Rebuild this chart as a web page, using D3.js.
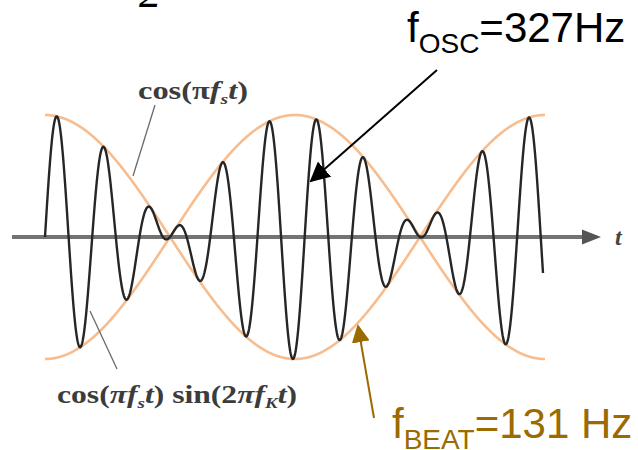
<!DOCTYPE html>
<html>
<head>
<meta charset="utf-8">
<script src="https://cdn.jsdelivr.net/npm/d3@7"></script>
<style>
  html, body { margin: 0; padding: 0; background: #fff; }
  svg { display: block; }
</style>
</head>
<body>
<svg id="chart" width="638" height="450"></svg>
<script>
// ---- data ----
// time axis, in envelope periods
const timeDomain = [0, 1];
const signalEnd = [0.996];
// envelope cos(pi fs t): one full period over the drawing; carrier sin(2 pi fk t)
const envelopeFreq = [2];      // fs  (cos(pi*fs*t))
const carrierFreq = [10.59];   // fk  (sin(2*pi*fk*t))
const amplitudeDomain = [-1, 1];
const sampleCount = [1200];

const labelOsc = ["f", "OSC", "=327Hz"];
const labelBeat = ["f", "BEAT", "=131 Hz"];
const axisLabel = ["t"];

// ---- layout ----
const svg = d3.select("#chart");
const x = d3.scaleLinear().domain(timeDomain).range([45, 545]);
const y = d3.scaleLinear().domain(amplitudeDomain).range([359, 115]);

const fs = envelopeFreq[0], fk = carrierFreq[0];
const envT = d3.range(0, sampleCount[0] + 1).map(i => timeDomain[0] + (timeDomain[1] - timeDomain[0]) * i / sampleCount[0]);
const sigT = d3.range(0, sampleCount[0] + 1).map(i => signalEnd[0] * i / sampleCount[0]);

const env = t => Math.cos(Math.PI * fs * t);
const sig = t => Math.cos(Math.PI * fs * t) * Math.sin(2 * Math.PI * fk * t);

const line = d3.line().x(d => x(d[0])).y(d => y(d[1])).curve(d3.curveLinear);

// envelopes
svg.append("path").datum(envT.map(t => [t, env(t)]))
  .attr("d", line).attr("fill", "none").attr("stroke", "#f7bd8f").attr("stroke-width", 2.6);
svg.append("path").datum(envT.map(t => [t, -env(t)]))
  .attr("d", line).attr("fill", "none").attr("stroke", "#f7bd8f").attr("stroke-width", 2.6);

// axis
const y0 = y(0);
svg.append("line").attr("x1", 12).attr("x2", 586).attr("y1", y0).attr("y2", y0)
  .attr("stroke", "#737373").attr("stroke-width", 4.2);
svg.append("path").attr("d", `M582,${y0 - 7.5} L601,${y0} L582,${y0 + 7.5} Z`).attr("fill", "#555");
svg.append("text").attr("x", 615).attr("y", y0 + 8)
  .attr("font-family", "Liberation Serif, serif").attr("font-style", "italic")
  .attr("font-weight", "bold")
  .attr("font-size", 24).attr("fill", "#444").text(axisLabel[0]);

// signal
svg.append("path").datum(sigT.map(t => [t, sig(t)]))
  .attr("d", line).attr("fill", "none").attr("stroke", "#262626").attr("stroke-width", 2.4)
  .attr("stroke-linejoin", "round");

// leader lines for formula labels
svg.append("line").attr("x1", 155).attr("y1", 105).attr("x2", 133).attr("y2", 176)
  .attr("stroke", "#6a6a6a").attr("stroke-width", 1.3);
svg.append("line").attr("x1", 90).attr("y1", 311).attr("x2", 117).attr("y2", 369)
  .attr("stroke", "#6a6a6a").attr("stroke-width", 1.3);

// formula labels
function formula(xp, yp, parts, width) {
  const t = svg.append("text").attr("x", xp).attr("y", yp)
    .attr("font-family", "Liberation Serif, serif").attr("font-weight", "bold")
    .attr("font-size", 25).attr("fill", "#3c3c3c");
  parts.forEach(p => {
    const s = t.append("tspan").text(p.t);
    if (p.i) s.attr("font-style", "italic");
    if (p.sub) s.attr("font-size", 15).attr("dy", 5);
    if (p.up) s.attr("dy", -5);
  });
  t.attr("textLength", width).attr("lengthAdjust", "spacingAndGlyphs");
}
formula(138, 99, [
  {t: "cos("}, {t: "π"}, {t: "f", i: 1}, {t: "s", i: 1, sub: 1}, {t: "t", i: 1, up: 1}, {t: ")"}
], 110);
formula(57, 403, [
  {t: "cos("}, {t: "π", i: 1}, {t: "f", i: 1}, {t: "s", i: 1, sub: 1}, {t: "t", i: 1, up: 1}, {t: ") sin(2"},
  {t: "π", i: 1}, {t: "f", i: 1}, {t: "K", i: 1, sub: 1}, {t: "t", i: 1, up: 1}, {t: ")"}
], 240);

// partial "2" at top
svg.append("text").attr("x", 139).attr("y", 7)
  .attr("font-family", "Liberation Serif, serif").attr("font-style", "italic")
  .attr("font-size", 44).attr("fill", "#000").text("2");

// arrows
const defs = svg.append("defs");
function marker(id, color, size) {
  defs.append("marker").attr("id", id).attr("viewBox", "0 0 10 10")
    .attr("refX", 9).attr("refY", 5).attr("markerWidth", size).attr("markerHeight", size)
    .attr("markerUnits", "userSpaceOnUse").attr("orient", "auto")
    .append("path").attr("d", "M0,0 L10,5 L0,10 Z").attr("fill", color);
}
marker("ahBlack", "#000", 20);
marker("ahGold", "#9b6a00", 18);

svg.append("line").attr("x1", 437).attr("y1", 70).attr("x2", 311).attr("y2", 181)
  .attr("stroke", "#000").attr("stroke-width", 2).attr("marker-end", "url(#ahBlack)");
svg.append("line").attr("x1", 374).attr("y1", 418).attr("x2", 358).attr("y2", 326)
  .attr("stroke", "#9b6a00").attr("stroke-width", 2).attr("marker-end", "url(#ahGold)");

// frequency labels
function freqLabel(xp, yp, parts, color) {
  const t = svg.append("text").attr("x", xp).attr("y", yp)
    .attr("font-family", "Liberation Sans, Arial, sans-serif")
    .attr("font-size", 42).attr("fill", color);
  t.append("tspan").text(parts[0]);
  t.append("tspan").attr("font-size", 28).attr("dy", 11).text(parts[1]);
  t.append("tspan").attr("dy", -11).text(parts[2]);
}
freqLabel(407, 42, labelOsc, "#000");
freqLabel(392, 438, labelBeat, "#9b6a00");
</script>
</body>
</html>
